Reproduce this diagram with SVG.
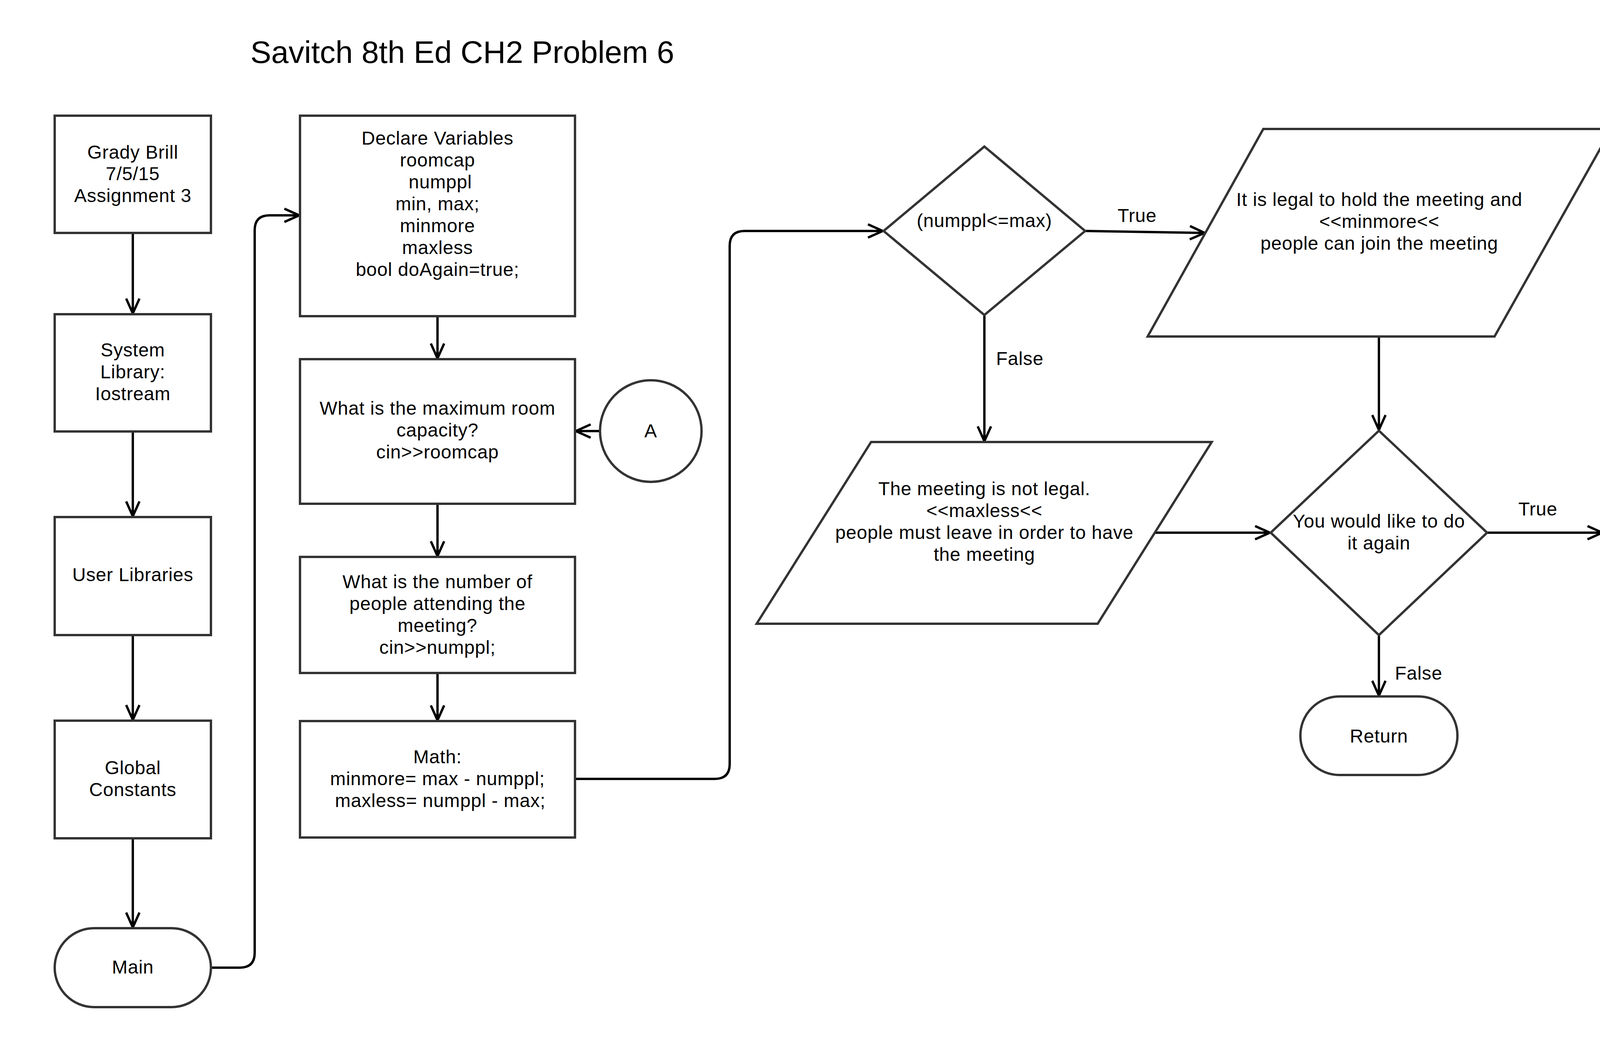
<svg xmlns="http://www.w3.org/2000/svg" width="4470" height="2656" viewBox="0 0 4470 2656">
<style>
.shape{fill:#fff;stroke:#333;stroke-width:6}
.conn{fill:none;stroke:#000;stroke-width:6;marker-end:url(#arr)}
text{font-family:"Liberation Sans",Arial,sans-serif;font-size:48px;fill:#000;letter-spacing:0.8px}
.c{text-anchor:middle}
.title{font-size:80px;letter-spacing:0}
</style>
<defs>
<marker id="arr" viewBox="-45 -25 50 50" refX="0" refY="0" markerWidth="50" markerHeight="50" markerUnits="userSpaceOnUse" orient="auto">
<path d="M-38,-17 L0,0 L-38,17" fill="none" stroke="#000" stroke-width="6"/>
</marker>
</defs>
<rect x="0" y="0" width="4470" height="2656" fill="#fff"/>
<text id="title" class="title" x="641" y="161">Savitch 8th Ed CH2 Problem 6</text>

<g id="connectors">
<line class="conn" x1="340" y1="597" x2="340" y2="802"/>
<line class="conn" x1="340" y1="1104" x2="340" y2="1321"/>
<line class="conn" x1="340" y1="1625" x2="340" y2="1842"/>
<line class="conn" x1="340" y1="2145" x2="340" y2="2373"/>
<path class="conn" d="M540,2476 H614 Q652,2476 652,2438 V589 Q652,551 690,551 H766"/>
<line class="conn" x1="1120" y1="809" x2="1120" y2="917"/>
<line class="conn" x1="1120" y1="1289" x2="1120" y2="1423"/>
<line class="conn" x1="1120" y1="1722" x2="1120" y2="1843"/>
<line class="conn" x1="1536" y1="1103" x2="1474" y2="1103"/>
<path class="conn" d="M1472,1993 H1830 Q1868,1993 1868,1955 V629 Q1868,591 1906,591 H2260"/>
<line class="conn" x1="2778" y1="591" x2="3084" y2="596"/>
<line class="conn" x1="2520" y1="806" x2="2520" y2="1129"/>
<line class="conn" x1="3530" y1="861" x2="3530" y2="1100"/>
<line class="conn" x1="2957" y1="1363" x2="3251" y2="1363"/>
<line class="conn" x1="3807" y1="1363" x2="4102" y2="1363"/>
<line class="conn" x1="3530" y1="1625" x2="3530" y2="1780"/>
<text x="2861" y="568">True</text>
<text x="2550" y="934">False</text>
<text x="3887" y="1319">True</text>
<text x="3571" y="1739">False</text>
</g>

<g id="grady">
<rect class="shape" x="140" y="296" width="400" height="300"/>
<text class="c" x="340" y="406">Grady Brill</text>
<text class="c" x="340" y="461">7/5/15</text>
<text class="c" x="340" y="517">Assignment 3</text>
</g>
<g id="system">
<rect class="shape" x="140" y="804" width="400" height="300"/>
<text class="c" x="340" y="912">System</text>
<text class="c" x="340" y="968">Library:</text>
<text class="c" x="340" y="1024">Iostream</text>
</g>
<g id="user">
<rect class="shape" x="140" y="1323" width="400" height="302"/>
<text class="c" x="340" y="1487">User Libraries</text>
</g>
<g id="global">
<rect class="shape" x="140" y="1844" width="400" height="301"/>
<text class="c" x="340" y="1981">Global</text>
<text class="c" x="340" y="2037">Constants</text>
</g>
<g id="main">
<rect class="shape" x="140" y="2375" width="400" height="202" rx="101" ry="101"/>
<text class="c" x="340" y="2491">Main</text>
</g>

<g id="declare">
<rect class="shape" x="768" y="296" width="704" height="513"/>
<text class="c" x="1120" y="370">Declare Variables</text>
<text class="c" x="1120" y="426">roomcap</text>
<text class="c" x="1120" y="482" xml:space="preserve"> numppl</text>
<text class="c" x="1120" y="538">min, max;</text>
<text class="c" x="1120" y="594">minmore</text>
<text class="c" x="1120" y="650">maxless</text>
<text class="c" x="1120" y="706">bool doAgain=true;</text>
</g>
<g id="maxroom">
<rect class="shape" x="768" y="919" width="704" height="370"/>
<text class="c" x="1120" y="1061">What is the maximum room</text>
<text class="c" x="1120" y="1117">capacity?</text>
<text class="c" x="1120" y="1173">cin&gt;&gt;roomcap</text>
</g>
<g id="connA1">
<circle class="shape" cx="1666" cy="1103" r="130"/>
<text class="c" x="1666" y="1119">A</text>
</g>
<g id="number">
<rect class="shape" x="768" y="1425" width="704" height="297"/>
<text class="c" x="1120" y="1505">What is the number of</text>
<text class="c" x="1120" y="1561">people attending the</text>
<text class="c" x="1120" y="1617">meeting?</text>
<text class="c" x="1120" y="1673">cin&gt;&gt;numppl;</text>
</g>
<g id="math">
<rect class="shape" x="768" y="1845" width="704" height="298"/>
<text class="c" x="1120" y="1953">Math:</text>
<text class="c" x="1120" y="2009">minmore= max - numppl;</text>
<text class="c" x="1120" y="2065" xml:space="preserve"> maxless= numppl - max;</text>
</g>

<g id="decision1">
<polygon class="shape" points="2520,375 2778,591 2520,806 2262,591"/>
<text class="c" x="2520" y="581">(numppl&lt;=max)</text>
</g>
<g id="legal">
<polygon class="shape" points="3234,330 4125,330 3826,861 2938,861"/>
<text class="c" x="3531" y="527">It is legal to hold the meeting and</text>
<text class="c" x="3531" y="583">&lt;&lt;minmore&lt;&lt;</text>
<text class="c" x="3531" y="639">people can join the meeting</text>
</g>
<g id="notlegal">
<polygon class="shape" points="2230,1131 3102,1131 2810,1596 1937,1596"/>
<text class="c" x="2520" y="1267">The meeting is not legal.</text>
<text class="c" x="2520" y="1323">&lt;&lt;maxless&lt;&lt;</text>
<text class="c" x="2520" y="1379">people must leave in order to have</text>
<text class="c" x="2520" y="1435">the meeting</text>
</g>
<g id="decision2">
<polygon class="shape" points="3530,1102 3807,1363 3530,1625 3253,1363"/>
<text class="c" x="3530" y="1350">You would like to do</text>
<text class="c" x="3530" y="1406">it again</text>
</g>
<g id="connA2">
<circle class="shape" cx="4234" cy="1364" r="130"/>
<text class="c" x="4234" y="1380">A</text>
</g>
<g id="return">
<rect class="shape" x="3329" y="1782" width="402" height="201" rx="100" ry="100"/>
<text class="c" x="3530" y="1900">Return</text>
</g>
</svg>
